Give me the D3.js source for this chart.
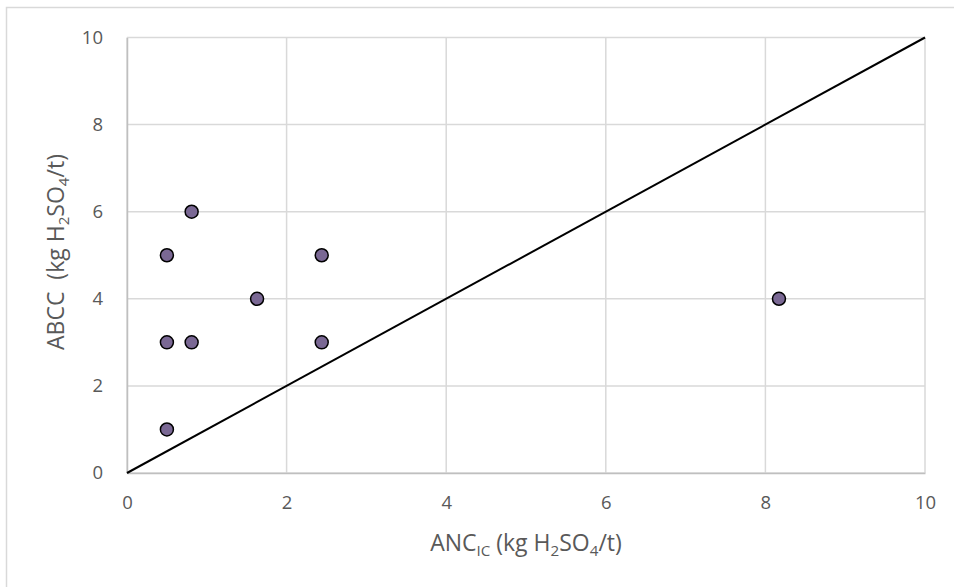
<!DOCTYPE html>
<html><head><meta charset="utf-8">
<script src="https://cdn.jsdelivr.net/npm/d3@7"></script>
<style>body{margin:0;background:#fff}svg{display:block}text{font-family:"Open Sans",Lato,sans-serif}</style>
</head><body>
<svg id="c" width="954" height="587"></svg>
<script>
const ancValues = [0.50, 0.50, 0.81, 0.50, 0.81, 1.63, 2.44, 2.44, 8.17];
const abccValues = [1, 3, 3, 5, 6, 4, 5, 3, 4];
const xTicks = [0, 2, 4, 6, 8, 10];
const yTicks = [0, 2, 4, 6, 8, 10];
const lineX = [0, 10];

const svg = d3.select("#c");
svg.append("rect").attr("x",6.5).attr("y",7.5).attr("width",960).attr("height",600)
  .attr("fill","#fff").attr("stroke","#d9d9d9").attr("stroke-width",1.5);

const m = {l:127, r:925, t:37.5, b:473};
const x = d3.scaleLinear().domain([0,10]).range([m.l, m.r]);
const y = d3.scaleLinear().domain([0,10]).range([m.b, m.t]);

const g = svg.append("g");
g.selectAll(".gx").data(xTicks).join("line")
  .attr("x1",d=>x(d)).attr("x2",d=>x(d)).attr("y1",m.t).attr("y2",m.b)
  .attr("stroke","#d9d9d9").attr("stroke-width",1.5);
g.selectAll(".gy").data(yTicks).join("line")
  .attr("y1",d=>y(d)).attr("y2",d=>y(d)).attr("x1",m.l).attr("x2",m.r)
  .attr("stroke","#d9d9d9").attr("stroke-width",1.5);

const tickFs = 18.5;
const xAxis = d3.axisBottom(x).tickValues(xTicks).tickSize(0).tickPadding(23);
const gx = svg.append("g").attr("transform",`translate(0,${m.b})`).call(xAxis);
gx.select(".domain").attr("stroke","#bfbfbf").attr("stroke-width",1.5);
gx.selectAll("text").attr("fill","#595959").attr("font-size",tickFs).attr("font-family","Open Sans");

const yAxis = d3.axisLeft(y).tickValues(yTicks).tickSize(0).tickPadding(24);
const gy = svg.append("g").attr("transform",`translate(${m.l},0)`).call(yAxis);
gy.select(".domain").attr("stroke","#bfbfbf").attr("stroke-width",1.5);
gy.selectAll("text").attr("fill","#595959").attr("font-size",tickFs).attr("font-family","Open Sans");

svg.append("path").datum(lineX)
  .attr("d", d3.line().x(d=>x(d)).y(d=>y(d)))
  .attr("stroke","#000").attr("stroke-width",2).attr("fill","none");

svg.selectAll(".pt").data(ancValues.map((v,i)=>[v,abccValues[i]])).join("circle")
  .attr("cx",d=>x(d[0])).attr("cy",d=>y(d[1])).attr("r",6.5)
  .attr("fill","#7a6894").attr("stroke","#000").attr("stroke-width",1.5);

function label(sel, parts, fs){
  sel.attr("font-size",fs);
  parts.forEach(p=>{
    const t = sel.append("tspan").text(p[0]);
    if(p[1]==="sub") t.attr("font-size",fs*0.66).attr("dy",fs*0.22);
    else if(p[1]==="up") t.attr("dy",-fs*0.22);
  });
}
const xl = svg.append("text").attr("x",526).attr("y",551)
  .attr("text-anchor","middle").attr("fill","#595959");
label(xl, [["ANC"],["IC","sub"],[" (kg H","up"],["2","sub"],["SO","up"],["4","sub"],["/t)","up"]], 23);

const yl = svg.append("text").attr("transform",`translate(64,252) rotate(-90)`)
  .attr("text-anchor","middle").attr("fill","#595959");
label(yl, [["ABCC\u00a0\u00a0(kg H"],["2","sub"],["SO","up"],["4","sub"],["/t)","up"]], 23);
</script>
</body></html>
